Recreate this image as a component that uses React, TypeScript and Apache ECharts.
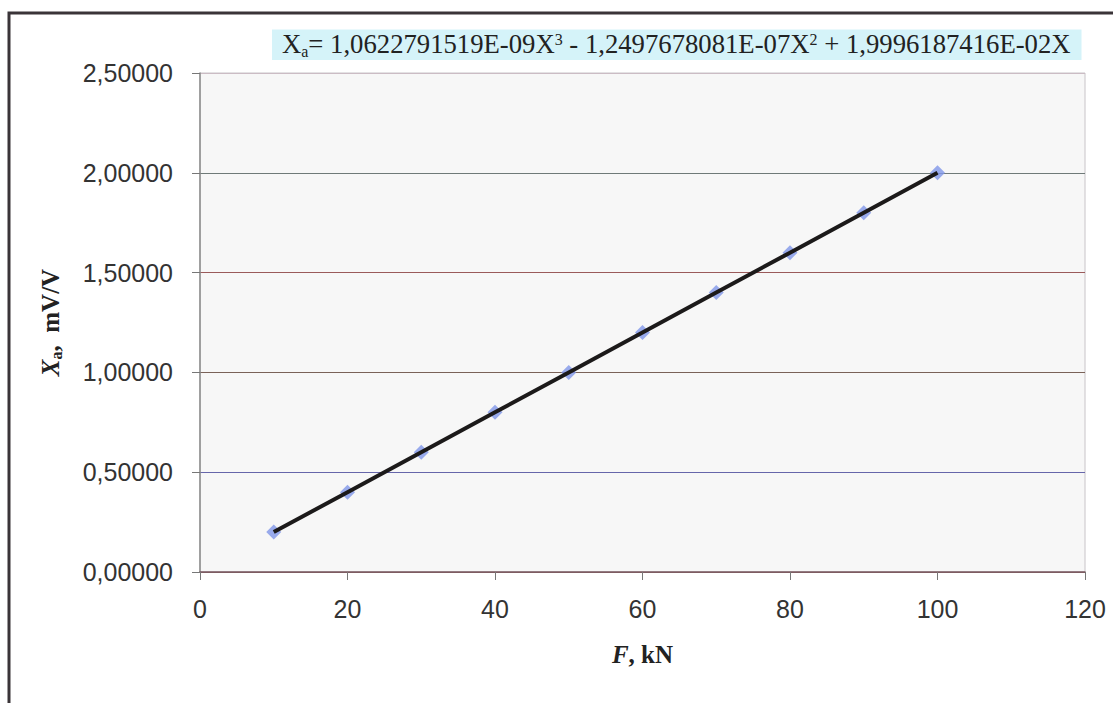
import React, { useEffect, useRef } from "react";
import * as echarts from "echarts";

const forceKN = [10, 20, 30, 40, 50, 60, 70, 80, 90, 100];
const outputMvV = [0.2, 0.4, 0.6, 0.8, 1.0, 1.2, 1.4, 1.6, 1.8, 2.0];
const equationParts = [
  "{x|X}{sub|a}{n|= 1,0622791519E-09X}{sup|3}{n| - 1,2497678081E-07X}{sup|2}{n| + 1,9996187416E-02X}",
];
const xAxisTitle = "{fi|F}{fb|, kN}";
const yAxisTitle = "{xi|X}{sub|a}{fb|,  mV/V}";

export default function App() {
  const ref = useRef<HTMLDivElement>(null);
  useEffect(() => {
    if (!ref.current) return;
    const chart = echarts.init(ref.current, undefined, { renderer: "svg" });
    const pts = forceKN.map((f, i) => [f, outputMvV[i]]);
    const serif = "'Liberation Serif', 'Times New Roman', serif";
    const sans = "'Liberation Sans', Arial, sans-serif";
    chart.setOption({
      animation: false,
      backgroundColor: "#ffffff",
      title: {
        text: equationParts[0],
        left: 272,
        top: 28,
        padding: [1, 11, 1, 10],
        backgroundColor: "#d5f3f9",
        textStyle: {
          fontFamily: serif,
          fontWeight: "normal",
          color: "#222",
          rich: {
            x: { fontFamily: serif, fontSize: 26.7, color: "#222" },
            n: { fontFamily: serif, fontSize: 26.7, color: "#222" },
            sub: { fontFamily: serif, fontSize: 16, color: "#222", padding: [14, 0, 0, 0] },
            sup: { fontFamily: serif, fontSize: 16, color: "#222", padding: [0, 0, 10, 0] },
          },
        },
      },
      graphic: [
        {
          type: "rect",
          shape: { x: 9, y: 13, width: 1200, height: 800 },
          style: { fill: "none", stroke: "#3a3438", lineWidth: 3 },
          silent: true,
          z: 100,
        },
      ],
      grid: {
        left: 200,
        top: 73,
        right: 28,
        bottom: 131,
        show: true,
        backgroundColor: "#f7f7f7",
        borderColor: "#c8c4c8",
        borderWidth: 1,
      },
      xAxis: {
        type: "value",
        min: 0,
        max: 120,
        interval: 20,
        name: xAxisTitle,
        nameLocation: "middle",
        nameGap: 70,
        nameTextStyle: {
          rich: {
            fi: { fontFamily: serif, fontSize: 25, fontWeight: "bold", fontStyle: "italic", color: "#222" },
            fb: { fontFamily: serif, fontSize: 25, fontWeight: "bold", color: "#222" },
          },
        },
        axisLine: { show: true, onZero: false, lineStyle: { color: "#7a5a62", width: 1.5 } },
        axisTick: { show: true, length: 8, lineStyle: { color: "#777" } },
        axisLabel: { fontFamily: sans, fontSize: 25, color: "#333", margin: 24 },
        splitLine: { show: false },
      },
      yAxis: {
        type: "value",
        min: 0,
        max: 2.5,
        interval: 0.5,
        name: yAxisTitle,
        nameLocation: "middle",
        nameGap: 136,
        nameTextStyle: {
          rich: {
            xi: { fontFamily: serif, fontSize: 25, fontWeight: "bold", fontStyle: "italic", color: "#222" },
            sub: { fontFamily: serif, fontSize: 16, fontWeight: "bold", color: "#222", padding: [12, 0, 0, 0] },
            fb: { fontFamily: serif, fontSize: 25, fontWeight: "bold", color: "#222" },
          },
        },
        axisLine: { show: true, lineStyle: { color: "#8a8a8a", width: 1.5 } },
        axisTick: { show: true, length: 8, lineStyle: { color: "#777" } },
        axisLabel: {
          fontFamily: sans,
          fontSize: 25,
          color: "#333",
          margin: 27,
          formatter: (v: number) => v.toFixed(5).replace(".", ","),
        },
        splitLine: {
          show: true,
          lineStyle: {
            width: 1.2,
            color: ["#8a6060", "#6666aa", "#7a6258", "#9a5a5a", "#6f7a78", "#cbbcc4"],
          },
        },
      },
      series: [
        {
          type: "scatter",
          data: pts,
          symbol: "diamond",
          symbolSize: 15,
          itemStyle: { color: "#7f96e8" },
          z: 2,
        },
        {
          type: "line",
          data: pts,
          showSymbol: false,
          symbol: "none",
          lineStyle: { color: "#1c1a1a", width: 4 },
          z: 3,
        },
      ],
    });
    return () => chart.dispose();
  }, []);
  return (
    <div
      ref={ref}
      style={{ position: "fixed", left: 0, top: 0, width: 1113, height: 703 }}
    />
  );
}
